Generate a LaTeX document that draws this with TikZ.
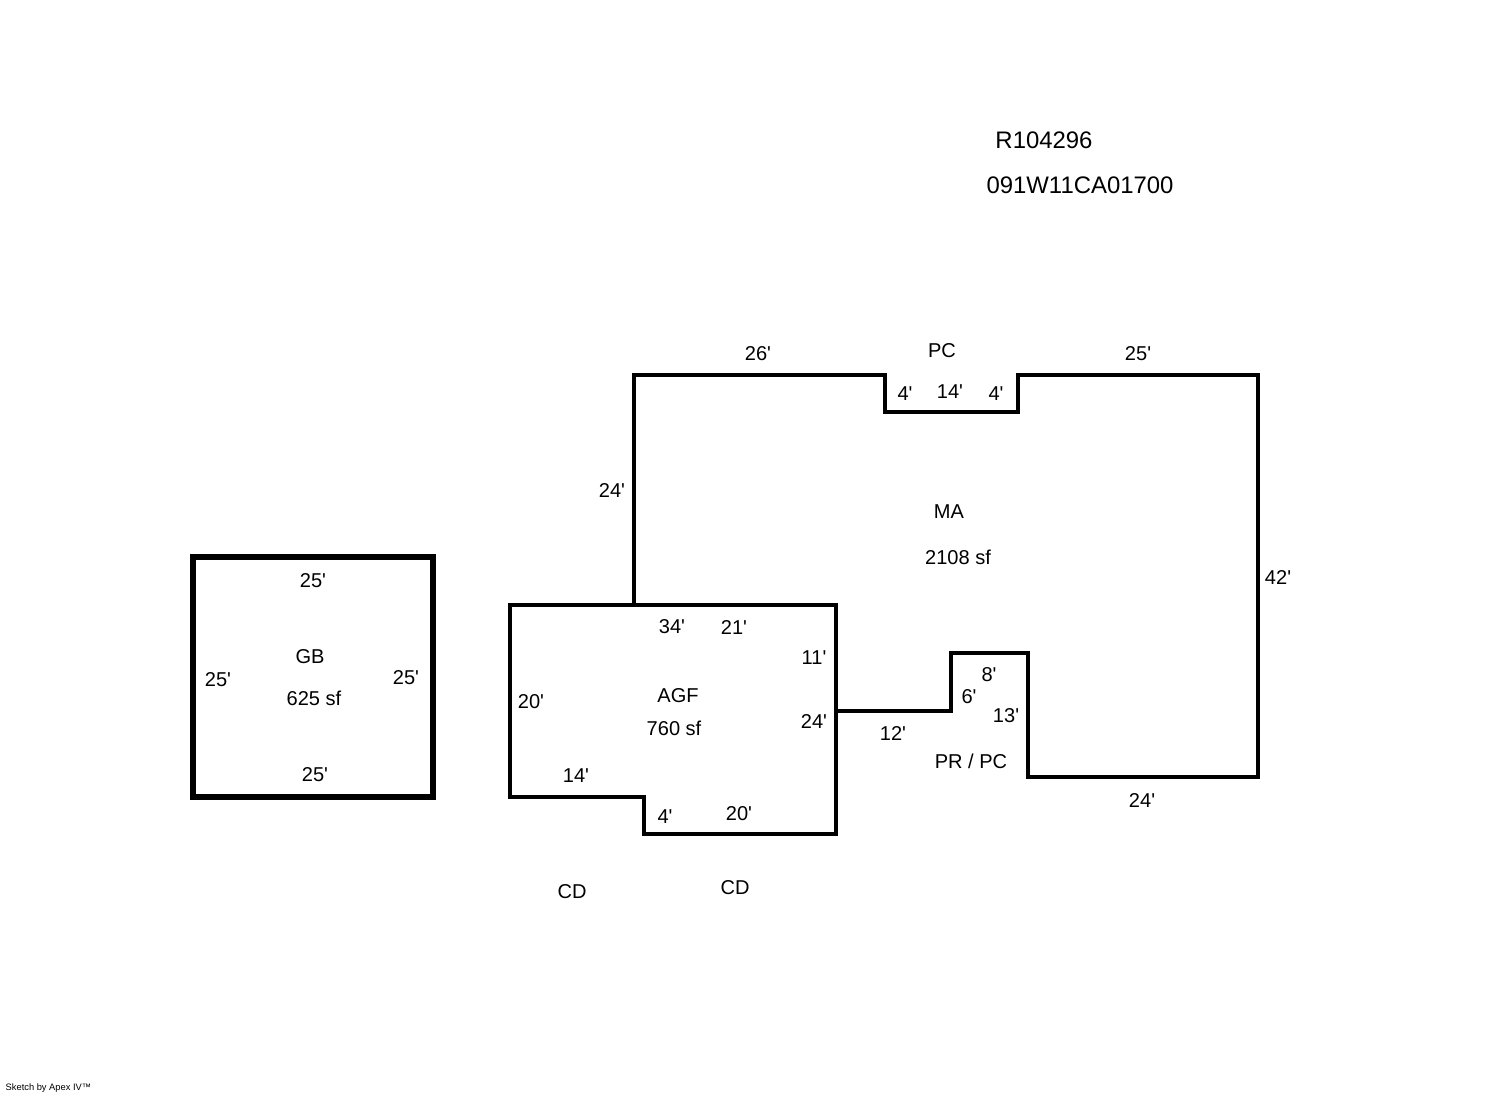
\documentclass[tikz,border=0pt]{standalone}
\usepackage{fontspec}
\newfontfamily\sketchfont{Liberation Sans}
\tikzset{
  wall/.style={line width=0.04cm, line join=miter},
  dim/.style={font=\sketchfont\fontsize{5.7pt}{7pt}\selectfont, inner sep=0pt},
  idtext/.style={font=\sketchfont\fontsize{6.8pt}{8pt}\selectfont, inner sep=0pt},
}
\begin{document}
\begin{tikzpicture}[x=0.01cm,y=-0.01cm]
\useasboundingbox (0,0) rectangle (1492,1094);

% main area
\draw[wall] (634,604) -- (634,375) -- (885,375) -- (885,412) -- (1018,412) -- (1018,375) -- (1258,375) -- (1258,777) -- (1028,777) -- (1028,653) -- (951,653) -- (951,711) -- (836,711);
% attached garage
\draw[wall] (510,605) -- (836,605) -- (836,834) -- (644,834) -- (644,797) -- (510,797) -- cycle;
% detached garage
\draw[line width=0.06cm] (193,557) rectangle (433,797);

\node[idtext] (parcel) at (1044,140) {R104296};
\node[idtext] (pin) at (1080,185) {091W11CA01700};

\node[dim] (ma) at (949,512) {MA};
\node[dim] (maarea) at (958,557) {2108 sf};
\node[dim] (pc) at (942,351) {PC};
\node[dim] (ma26) at (758,354) {26'};
\node[dim] (ma25) at (1138,354) {25'};
\node[dim] (pc4a) at (905,394) {4'};
\node[dim] (pc14) at (950,392) {14'};
\node[dim] (pc4b) at (996,394) {4'};
\node[dim] (ma24a) at (612,490) {24'};
\node[dim] (ma42) at (1278,577) {42'};
\node[dim] (ma24b) at (1142,800) {24'};

\node[dim] (pr) at (971,761) {PR / PC};
\node[dim] (pr12) at (893,733) {12'};
\node[dim] (pr6) at (969,697) {6'};
\node[dim] (pr8) at (989,675) {8'};
\node[dim] (pr13) at (1006,716) {13'};

\node[dim] (agf) at (678,696) {AGF};
\node[dim] (agfarea) at (674,728) {760 sf};
\node[dim] (agf34) at (672,627) {34'};
\node[dim] (agf21) at (734,627) {21'};
\node[dim] (agf11) at (814,658) {11'};
\node[dim] (agf24) at (814,721) {24'};
\node[dim] (agf20a) at (531,702) {20'};
\node[dim] (agf14) at (576,776) {14'};
\node[dim] (agf4) at (665,817) {4'};
\node[dim] (agf20b) at (739,814) {20'};
\node[dim] (cda) at (572,892) {CD};
\node[dim] (cdb) at (735,888) {CD};

\node[dim] (gb) at (310,657) {GB};
\node[dim] (gbarea) at (314,698) {625 sf};
\node[dim] (gbtop) at (313,581) {25'};
\node[dim] (gbleft) at (218,680) {25'};
\node[dim] (gbright) at (406,678) {25'};
\node[dim] (gbbot) at (315,775) {25'};

\node[font=\sketchfont\fontsize{2.65pt}{3pt}\selectfont, inner sep=0pt, anchor=west] (credit) at (5,1088) {Sketch by Apex IV™};
\end{tikzpicture}
\end{document}
